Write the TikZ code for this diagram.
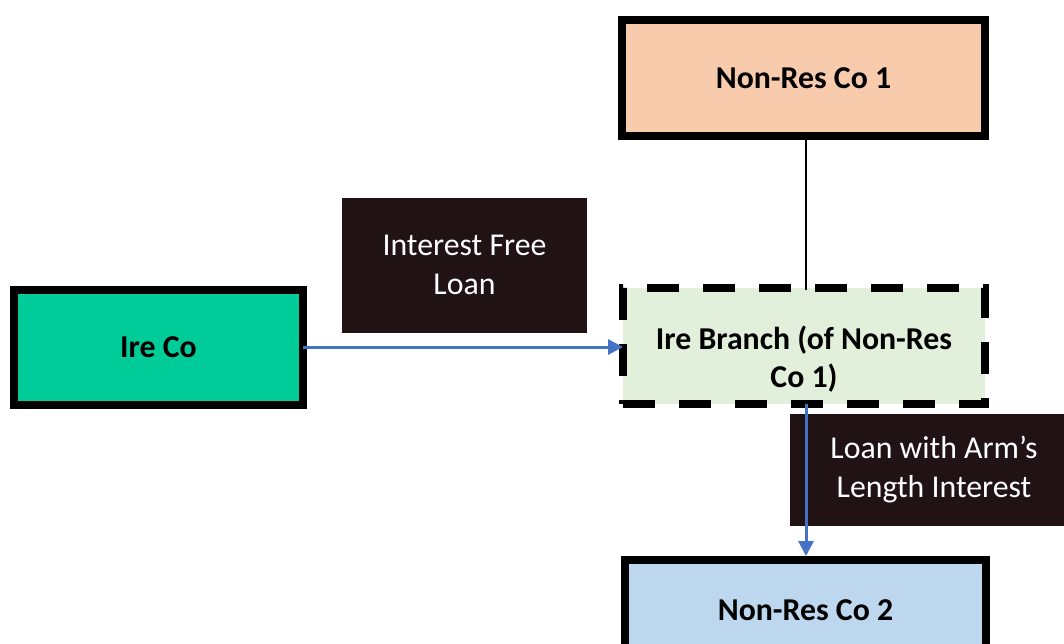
\documentclass[tikz,border=0pt]{standalone}
\usepackage{fontspec}
\setmainfont{Carlito}
\usetikzlibrary{arrows.meta}
\definecolor{peach}{HTML}{F8CBAD}
\definecolor{irecolor}{HTML}{00CC99}
\definecolor{branchfill}{HTML}{E2EFDA}
\definecolor{bluefill}{HTML}{BDD7EE}
\definecolor{darklabel}{HTML}{211313}
\definecolor{arrowblue}{HTML}{4472C4}
\tikzset{
  entity/.style={draw=black, line width=8pt, outer sep=0pt, inner sep=0pt,
    font=\fontsize{31.8}{38.5}\selectfont\bfseries, align=center},
  branchbox/.style={draw=black, line width=8pt, dash pattern=on 32pt off 24pt,
    outer sep=0pt, inner sep=0pt, fill=branchfill},
  branchtext/.style={inner sep=0pt, font=\fontsize{31.8}{38.5}\selectfont\bfseries, align=center},
  labelbox/.style={fill=darklabel, text=white, inner sep=0pt,
    font=\fontsize{31.8}{39}\selectfont, align=center},
  flow/.style={draw=arrowblue, line width=3pt, -{Triangle[length=15pt,width=15pt]}},
  link/.style={draw=black, line width=1.8pt}
}
\begin{document}
\begin{tikzpicture}[x=1pt,y=-1pt]
\useasboundingbox (0,0) rectangle (1064,644);
\clip (0,0) rectangle (1064,644);
\node[entity, fill=peach, minimum width=363pt, minimum height=116pt] (nr1) at (803.5,78) {Non-Res Co 1};
\node[entity, fill=irecolor, minimum width=289pt, minimum height=115.5pt] (ire) at (158.5,347.5) {Ire Co};
\node[branchbox, minimum width=362pt, minimum height=116pt] (br) at (804,346) {};
\node[branchtext] (brt) at (804,359) {Ire Branch (of Non-Res\\Co 1)};
\node[entity, fill=bluefill, minimum width=361pt, minimum height=100pt] (nr2) at (805.5,610) {Non-Res Co 2};
\node[labelbox, minimum width=245pt, minimum height=134.5pt] (l1) at (464.5,265.3) {Interest Free\\Loan};
\node[labelbox, minimum width=288pt, minimum height=112.5pt] (l2) at (934,470) {Loan with Arm’s\\Length Interest};
\coordinate (brtop) at (806,290);
\coordinate (brbot) at (806,404);
\coordinate (nr1bot) at (806,139.5);
\coordinate (nr2top) at (806,556);
\draw[link] (nr1bot) -- (brtop);
\draw[flow] (ire.east |- 0,347) -- (br.west |- 0,347);
\draw[flow] (brbot) -- (nr2top);
\end{tikzpicture}
\end{document}
